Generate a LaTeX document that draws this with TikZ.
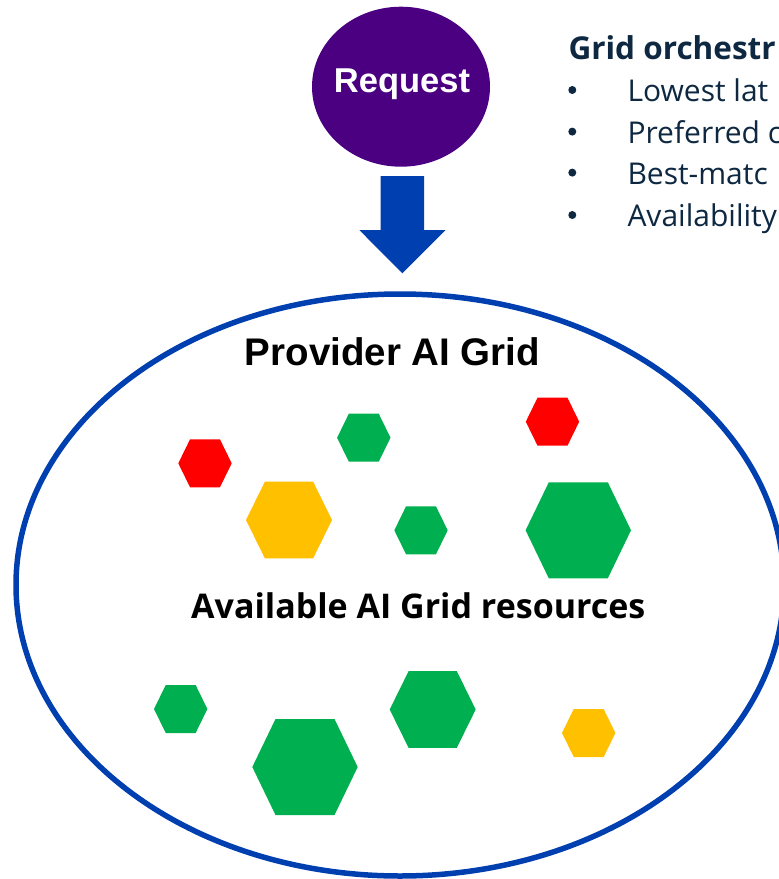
\documentclass[tikz,border=0pt]{standalone}
\usepackage{fontspec}
\setmainfont{Liberation Sans}
\newfontfamily\aptos{Open Sans}
\usetikzlibrary{shapes.geometric}
\definecolor{hexred}{HTML}{FF0000}
\definecolor{hexgreen}{HTML}{00B050}
\definecolor{hexyellow}{HTML}{FFC000}
\definecolor{reqpurple}{HTML}{4B0082}
\definecolor{gridblue}{HTML}{003FAF}
\definecolor{navy}{HTML}{0E2841}
\newcommand\hexshape[5]{%
  \fill[#5] ({#1-#3},{#2}) -- ({#1-0.56*#3},{#2-#4}) -- ({#1+0.56*#3},{#2-#4}) --
    ({#1+#3},{#2}) -- ({#1+0.56*#3},{#2+#4}) -- ({#1-0.56*#3},{#2+#4}) -- cycle;}
\tikzset{
  bullettext/.style={anchor=base west, text=navy, font=\aptos\fontsize{30}{34}\selectfont, inner sep=0},
  bulletdot/.style={circle, fill=navy, minimum size=8, inner sep=0},
}
\begin{document}
\begin{tikzpicture}[x=1pt,y=-1pt]
\useasboundingbox (0,0) rectangle (779,879);
\clip (0,0) rectangle (779,879);
\fill[white] (0,0) rectangle (779,879);
% request
\node[ellipse, fill=reqpurple, minimum width=178, minimum height=160, inner sep=0] (req) at (401,86.7) {};
\node[anchor=base, text=white, font=\bfseries\fontsize{34.5}{40}\selectfont, inner sep=0] (reqtext) at (402,92) {Request};
% arrow
\fill[gridblue] (380.7,176) -- (424,176) -- (424,230) -- (445.7,230) -- (402.3,273.3) -- (359.3,230) -- (380.7,230) -- cycle;
% grid ellipse
\node[ellipse, draw=gridblue, line width=5.5, minimum width=768, minimum height=582, inner sep=0] (grid) at (400,585) {};
\node[anchor=base, font=\bfseries\fontsize{38.5}{46}\selectfont, inner sep=0] (gridtitle) at (392.5,365) {Provider AI Grid};
\node[anchor=base, font=\aptos\bfseries\fontsize{34}{40}\selectfont, inner sep=0] (avail) at (418.3,618.3) {Available AI Grid resources};
% hexagons
\hexshape{205}{463.3}{26.7}{24}{hexred}
\hexshape{363.8}{437.7}{26.7}{24}{hexgreen}
\hexshape{552.5}{421.7}{26.7}{24}{hexred}
\hexshape{289}{520}{43}{38.4}{hexyellow}
\hexshape{421}{530.3}{26.7}{24}{hexgreen}
\hexshape{578.3}{530.3}{52.7}{48}{hexgreen}
\hexshape{180.7}{709}{26.7}{24}{hexgreen}
\hexshape{305}{767}{52.7}{48}{hexgreen}
\hexshape{432.7}{709.5}{43}{38.4}{hexgreen}
\hexshape{588.7}{733}{26.7}{24}{hexyellow}
% orchestration text
\node[anchor=base west, text=navy, font=\aptos\bfseries\fontsize{31.5}{36}\selectfont, inner sep=0] (orch) at (568.3,59.3) {Grid orchestr};
\node[bulletdot] (b1) at (572.3,90) {};
\node[bullettext] (t1) at (627.3,101.7) {Lowest lat};
\node[bulletdot] (b2) at (572.3,131.6) {};
\node[bullettext] (t2) at (627.3,143.3) {Preferred c};
\node[bulletdot] (b3) at (572.3,172.6) {};
\node[bullettext] (t3) at (627.3,184.3) {Best-matc};
\node[bulletdot] (b4) at (572.3,215) {};
\node[bullettext] (t4) at (627.3,226.7) {Availability};
\end{tikzpicture}
\end{document}
